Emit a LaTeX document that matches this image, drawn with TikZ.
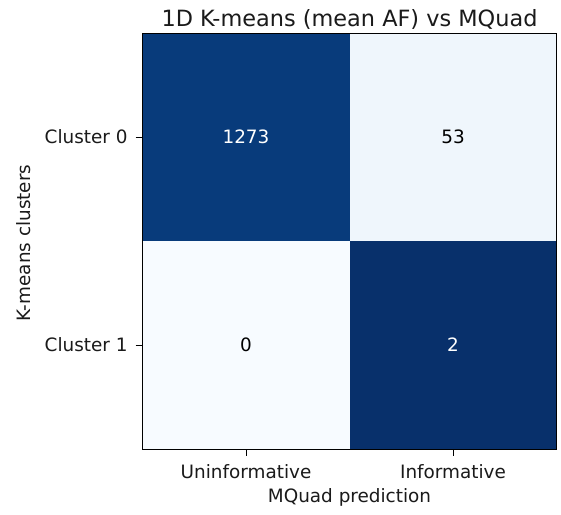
\documentclass[tikz,border=0pt]{standalone}
\usepackage{fontspec}
\setmainfont{DejaVu Sans}
\usepackage{xcolor}
\definecolor{BluesMax}{HTML}{08306B}
\definecolor{BluesHigh}{HTML}{083B7B}
\definecolor{BluesLow}{HTML}{EFF6FC}
\definecolor{BluesMin}{HTML}{F7FBFF}
\definecolor{AxisText}{HTML}{1A1A1A}
\usepackage{tikz}
\usetikzlibrary{positioning}

\tikzset{
  ticklbl/.style={inner sep=0pt, font=\fontsize{9.2}{11}\selectfont\color{AxisText}},
  celllbl/.style={inner sep=0pt, font=\fontsize{9.2}{11}\selectfont},
  ttl/.style={inner sep=0pt, font=\fontsize{11.2}{13}\selectfont\color{AxisText}}
}

\begin{document}
\begin{tikzpicture}[x=0.5pt, y=-0.5pt]
  \useasboundingbox (0,0) rectangle (561,514);

  %% cells (row-normalised shading)
  \foreach \x/\y/\xend/\yend/\col/\tcol/\val/\nm in {
    142.5/33/349.5/241/BluesHigh/white/1273/c00,
    349.5/33/556.5/241/BluesLow/black/53/c01,
    142.5/241/349.5/449/BluesMin/black/0/c10,
    349.5/241/556.5/449/BluesMax/white/2/c11}{
    \fill[\col] (\x,\y) rectangle (\xend,\yend);
    \node[celllbl, text=\tcol] (\nm) at ({(\x+\xend)/2},{(\y+\yend)/2}) {\val};
  }

  %% frame
  \draw[black, line width=0.5pt] (142.5,33) rectangle (556.5,449);

  %% y ticks
  \foreach \y/\lbl/\nm in {137/Cluster 0/yt0, 345/Cluster 1/yt1}{
    \draw[black, line width=0.5pt] (135.5,\y) -- (142.5,\y);
    \node[ticklbl, anchor=east] (\nm) at (128,\y) {\lbl};
  }
  %% x ticks
  \foreach \x/\lbl/\nm in {246/Uninformative/xt0, 453/Informative/xt1}{
    \draw[black, line width=0.5pt] (\x,449) -- (\x,456);
    \node[ticklbl, anchor=north] (\nm) at (\x,464) {\lbl};
  }

  %% labels
  \node[ttl, anchor=base] (title) at (349.5,26.5) {1D K-means (mean AF) vs MQuad};
  \node[ticklbl, anchor=north] (xlabel) at (349.5,488) {MQuad prediction};
  \node[ticklbl, rotate=90] (ylabel) at (24,243) {K-means clusters};
\end{tikzpicture}
\end{document}
